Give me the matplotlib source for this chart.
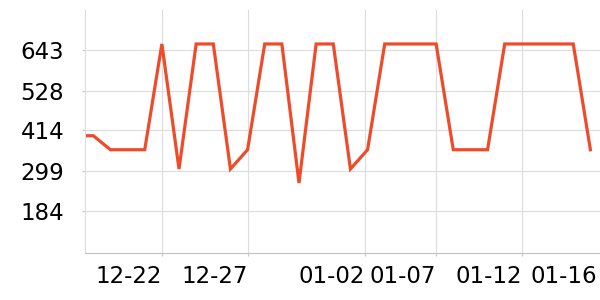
import matplotlib
matplotlib.use('Agg')
import matplotlib.pyplot as plt

# daily values, 12-17 .. 01-16
dates = ['12-17', '12-18', '12-19', '12-20', '12-21', '12-22', '12-23', '12-24', '12-25',
         '12-26', '12-27', '12-28', '12-29', '12-30', '12-31', '01-01', '01-02', '01-03',
         '01-04', '01-05', '01-06', '01-07', '01-08', '01-09', '01-10', '01-11', '01-12',
         '01-13', '01-14', '01-15', '01-16']
values = [399, 399, 359, 359, 359, 661, 304, 661, 661, 304, 359, 661, 661, 264, 661, 661,
          304, 359, 661, 661, 661, 661, 359, 359, 359, 661, 661, 661, 661, 661, 359]

y_ticks = [184, 299, 414, 528, 643]
x_tick_pos = [5, 10, 16.85, 21, 26]
x_tick_labels = ['12-22', '12-27', '01-02', '01-07', '01-12']
last_label = '01-16'

x = list(range(len(dates)))

fig = plt.figure(figsize=(6, 3), dpi=100)
ax = fig.add_axes([85.3 / 600, 1 - 252.5 / 300, 1 - 85.3 / 600, (252.5 - 10) / 300])

ax.plot(x, values, color='#ee4b2b', lw=2.3, solid_joinstyle='miter')

ax.set_xlim(0.533, 30.56)
ax.set_ylim(65.5, 758)

ax.set_yticks(y_ticks)
ax.set_yticklabels([str(v) for v in y_ticks])
ax.set_xticks(x_tick_pos)
ax.set_xticklabels(x_tick_labels, ha='right')
ax.set_xticks([30.4], [last_label], minor=True)
for lab in ax.get_xticklabels(minor=True):
    lab.set_ha('right')

ax.grid(True, which='major', color='#dcdcdc', lw=0.8)
ax.set_axisbelow(True)
ax.tick_params(axis='both', which='both', labelsize=16.5, length=2.5, width=0.8,
               color='#c8c8c8', labelcolor='black')
ax.tick_params(axis='x', which='major', pad=6.5)
ax.tick_params(axis='x', which='minor', length=0, pad=9)
ax.tick_params(axis='y', pad=12.8)

for side in ['top', 'right']:
    ax.spines[side].set_visible(False)
ax.spines['left'].set_color('#dcdcdc')
ax.spines['bottom'].set_color('#c0c0c0')
ax.spines['left'].set_linewidth(0.8)
ax.spines['bottom'].set_linewidth(0.8)

fig.savefig('out.png', dpi=100)
